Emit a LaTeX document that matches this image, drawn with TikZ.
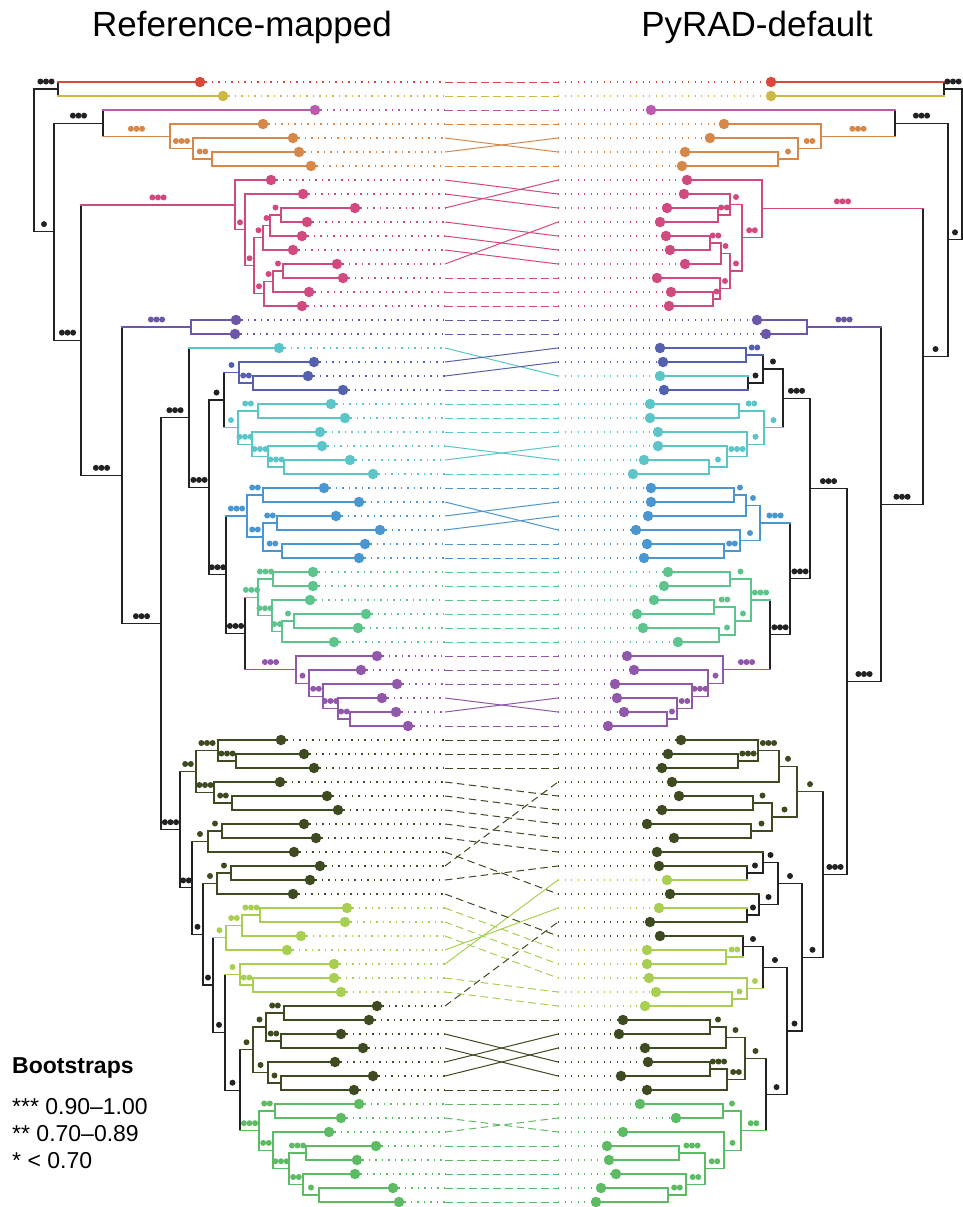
\documentclass[tikz,border=0pt]{standalone}
\usepackage{fontspec}
\setmainfont{Liberation Sans}
\usetikzlibrary{calc}

\definecolor{cRed}{HTML}{D9483B}
\definecolor{cYel}{HTML}{CDB843}
\definecolor{cMag}{HTML}{B85AAD}
\definecolor{cOra}{HTML}{D6884A}
\definecolor{cPink}{HTML}{D04A80}
\definecolor{cPur}{HTML}{6B56A8}
\definecolor{cDblue}{HTML}{5560AE}
\definecolor{cCyan}{HTML}{5CC5C8}
\definecolor{cBlue}{HTML}{4A96D0}
\definecolor{cGreen}{HTML}{5DC48E}
\definecolor{cViol}{HTML}{9157A8}
\definecolor{cOlive}{HTML}{3E4A1F}
\definecolor{cLime}{HTML}{A8CF52}
\definecolor{cLeaf}{HTML}{5DBB63}
\definecolor{cBlk}{HTML}{222222}

% tip: name, x, row, colour
\newcommand\tip[4]{%
  \node[tipdot, fill=#4] (#1) at (#2,{82+14*#3}) {};
  \expandafter\gdef\csname col@#1\endcsname{#4}%
  \expandafter\gdef\csname bs@#1\endcsname{0}}

% branch from a child to its parent, with the bootstrap dots of the child
\newcommand\twig[2]{%
  \edef\twigcol{\csname col@#1\endcsname}%
  \draw[branch, draw=\twigcol] (#1) -- (#1 -| #2);
  \ifnum\csname bs@#1\endcsname>0
    \path ($(#1)!0.5!(#1 -| #2)$) ++(0pt,7.5pt) coordinate (bsmid);
    \edef\twign{\csname bs@#1\endcsname}%
    \foreach \k in {1,...,\twign}
      \fill[fill=\twigcol] ([xshift={5.6*(\k-(\twign+1)/2)}]bsmid) circle (3pt);
  \fi}

% clade: name, x, first child, second child, colour, bootstrap dots
\newcommand\clade[6]{%
  \coordinate (mid) at ($(#3)!0.5!(#4)$);
  \path let \p1=(mid) in coordinate (#1) at (#2pt,\y1);
  \draw[branch, draw=#5] (#3 -| #1) -- (#4 -| #1);
  \twig{#3}{#1}%
  \twig{#4}{#1}%
  \expandafter\gdef\csname col@#1\endcsname{#5}%
  \expandafter\gdef\csname bs@#1\endcsname{#6}}

% link between the two trees: left row, right row, middle style
\newcommand\tangle[3]{%
  \edef\tngcol{\csname col@L#1\endcsname}%
  \edef\tngcor{\csname col@R#2\endcsname}%
  \draw[linkdot, draw=\tngcol] (L#1) -- (L#1 -| lgap);
  \draw[#3, draw=\tngcol] (L#1 -| lgap) -- (R#2 -| rgap);
  \draw[linkdot, draw=\tngcor] (R#2 -| rgap) -- (R#2);}

\begin{document}
\begin{tikzpicture}[x=1pt, y=-1pt,
  tipdot/.style={circle, inner sep=0pt, minimum size=10.5pt},
  branch/.style={line width=1.2pt, line cap=rect},
  linkdot/.style={line width=1.2pt, dash pattern=on 1.2pt off 5.3pt},
  midline/.style={line width=1pt, dash pattern=on 7.5pt off 4.5pt},
  midcross/.style={line width=1pt}]
  \useasboundingbox (0,0) rectangle (963,1207);
  \coordinate (lgap) at (445,0);
  \coordinate (rgap) at (558,0);

  % titles
  \node[anchor=base, inner sep=0pt, font=\fontsize{35}{42}\selectfont] (reftitle) at (242,37) {Reference-mapped};
  \node[anchor=base, inner sep=0pt, font=\fontsize{35}{42}\selectfont] (pyrtitle) at (757,37) {PyRAD-default};

  % left tips
  \tip{L0}{200}{0}{cRed}
  \tip{L1}{223}{1}{cYel}
  \tip{L2}{315}{2}{cMag}
  \foreach \r/\px in {3/263,4/293,5/299,6/311} {\tip{L\r}{\px}{\r}{cOra}}
  \foreach \r/\px in {7/271,8/303,9/355,10/307,11/302,12/293,13/337,14/343,15/309,16/302} {\tip{L\r}{\px}{\r}{cPink}}
  \foreach \r/\px in {17/236,18/235} {\tip{L\r}{\px}{\r}{cPur}}
  \foreach \r/\px in {19/279,23/331,24/345,25/320,26/322,27/350,28/373} {\tip{L\r}{\px}{\r}{cCyan}}
  \foreach \r/\px in {20/314,21/308,22/343} {\tip{L\r}{\px}{\r}{cDblue}}
  \foreach \r/\px in {29/324,30/359,31/336,32/380,33/365,34/359} {\tip{L\r}{\px}{\r}{cBlue}}
  \foreach \r/\px in {35/313,36/313,37/310,38/366,39/358,40/334} {\tip{L\r}{\px}{\r}{cGreen}}
  \foreach \r/\px in {41/377,42/361,43/397,44/382,45/396,46/408} {\tip{L\r}{\px}{\r}{cViol}}
  \foreach \r/\px in {47/281,48/304,49/314,50/280,51/327,52/338,53/304,54/316,55/294,56/320,57/310,58/293,
    66/377,67/369,68/341,69/363,70/335,71/373,72/354} {\tip{L\r}{\px}{\r}{cOlive}}
  \foreach \r/\px in {59/347,60/345,61/301,62/287,63/334,64/334,65/341} {\tip{L\r}{\px}{\r}{cLime}}
  \foreach \r/\px in {73/359,74/341,75/329,76/376,77/357,78/355,79/393,80/399} {\tip{L\r}{\px}{\r}{cLeaf}}

  % right tips
  \tip{R0}{771}{0}{cRed}
  \tip{R1}{771}{1}{cYel}
  \tip{R2}{651}{2}{cMag}
  \foreach \r/\px in {3/724,4/710,5/685,6/682} {\tip{R\r}{\px}{\r}{cOra}}
  \foreach \r/\px in {7/687,8/684,9/667,10/660,11/666,12/670,13/685,14/657,15/671,16/669} {\tip{R\r}{\px}{\r}{cPink}}
  \foreach \r/\px in {17/757,18/766} {\tip{R\r}{\px}{\r}{cPur}}
  \foreach \r/\px in {19/660,20/663,22/664} {\tip{R\r}{\px}{\r}{cDblue}}
  \foreach \r/\px in {21/660,23/650,24/650,25/658,26/658,27/644,28/633} {\tip{R\r}{\px}{\r}{cCyan}}
  \foreach \r/\px in {29/651,30/651,31/648,32/636,33/647,34/644} {\tip{R\r}{\px}{\r}{cBlue}}
  \foreach \r/\px in {35/668,36/664,37/654,38/637,39/643,40/678} {\tip{R\r}{\px}{\r}{cGreen}}
  \foreach \r/\px in {41/627,42/634,43/615,44/617,45/624,46/608} {\tip{R\r}{\px}{\r}{cViol}}
  \foreach \r/\px in {47/681,48/668,49/662,50/672,51/679,52/662,53/647,54/674,55/657,56/659,58/670,60/650,61/660,
    67/623,68/619,69/645,70/648,71/621,72/647} {\tip{R\r}{\px}{\r}{cOlive}}
  \foreach \r/\px in {57/667,59/659,62/647,63/647,64/649,65/656,66/645} {\tip{R\r}{\px}{\r}{cLime}}
  \foreach \r/\px in {73/640,74/676,75/623,76/607,77/609,78/616,79/601,80/596} {\tip{R\r}{\px}{\r}{cLeaf}}

  % links between the trees
  \foreach \r in {0,1,2,3,6,14,15,16,17,18,22,23,24,25,28,29,33,34,35,36,37,38,39,40,41,42,43,46,
    47,48,49,67,72,73,76,77,78,79,80} {\tangle{\r}{\r}{midline}}
  \foreach \r/\s in {4/5,5/4,7/8,8/9,9/7,10/11,11/12,12/13,13/10,19/21,20/19,21/20,26/27,27/26,
    30/32,31/30,32/31,44/45,45/44,62/59,63/57,68/70,69/71,70/68,71/69} {\tangle{\r}{\s}{midcross}}
  \foreach \r/\s in {50/51,51/52,52/53,53/54,54/55,55/58,56/50,57/56,58/61,59/62,60/63,61/64,
    64/65,65/66,66/60,74/75,75/74} {\tangle{\r}{\s}{midline}}

  % left tree
  \clade{lA}{58}{L0}{L1}{cBlk}{3}
  \clade{lO3}{212}{L5}{L6}{cOra}{2}
  \clade{lO2}{193}{L4}{lO3}{cOra}{3}
  \clade{lO}{170}{L3}{lO2}{cOra}{3}
  \clade{lC}{103}{L2}{lO}{cBlk}{3}
  \clade{lP6}{281}{L9}{L10}{cPink}{1}
  \clade{lP5}{270}{lP6}{L11}{cPink}{1}
  \clade{lP4}{263}{lP5}{L12}{cPink}{1}
  \clade{lP9}{283}{L13}{L14}{cPink}{1}
  \clade{lP8}{273}{lP9}{L15}{cPink}{1}
  \clade{lP7}{264}{lP8}{L16}{cPink}{1}
  \clade{lP3}{254}{lP4}{lP7}{cPink}{1}
  \clade{lP2}{245}{L8}{lP3}{cPink}{1}
  \clade{lP}{235}{L7}{lP2}{cPink}{3}
  \clade{lPu}{191}{L17}{L18}{cPur}{3}
  \clade{lDB2}{253}{L21}{L22}{cDblue}{2}
  \clade{lDB}{239}{L20}{lDB2}{cDblue}{1}
  \clade{lC3}{258}{L23}{L24}{cCyan}{2}
  \clade{lC6}{284}{L27}{L28}{cCyan}{3}
  \clade{lC5}{268}{L26}{lC6}{cCyan}{3}
  \clade{lC4}{252}{L25}{lC5}{cCyan}{3}
  \clade{lC2}{238}{lC3}{lC4}{cCyan}{1}
  \clade{lG3}{224}{lDB}{lC2}{cBlk}{1}
  \clade{lBl2}{263}{L29}{L30}{cBlue}{2}
  \clade{lBl4}{277}{L31}{L32}{cBlue}{2}
  \clade{lBl5}{282}{L33}{L34}{cBlue}{2}
  \clade{lBl3}{263}{lBl4}{lBl5}{cBlue}{2}
  \clade{lBl}{247}{lBl2}{lBl3}{cBlue}{3}
  \clade{lGr2}{273}{L35}{L36}{cGreen}{3}
  \clade{lGr5}{294}{L38}{L39}{cGreen}{1}
  \clade{lGr4}{282}{lGr5}{L40}{cGreen}{2}
  \clade{lGr3}{272}{L37}{lGr4}{cGreen}{3}
  \clade{lGr}{258}{lGr2}{lGr3}{cGreen}{3}
  \clade{lPuB5}{350}{L45}{L46}{cViol}{2}
  \clade{lPuB4}{338}{L44}{lPuB5}{cViol}{3}
  \clade{lPuB3}{323}{L43}{lPuB4}{cViol}{2}
  \clade{lPuB2}{309}{L42}{lPuB3}{cViol}{1}
  \clade{lPuB}{296}{L41}{lPuB2}{cViol}{3}
  \clade{lGP}{245}{lGr}{lPuB}{cBlk}{3}
  \clade{lG4}{226}{lBl}{lGP}{cBlk}{3}
  \clade{lG2}{209}{lG3}{lG4}{cBlk}{3}
  \clade{lG}{189}{L19}{lG2}{cBlk}{3}
  \clade{lOl2b}{236}{L48}{L49}{cOlive}{3}
  \clade{lOl2}{218}{L47}{lOl2b}{cOlive}{3}
  \clade{lOl3b}{232}{L51}{L52}{cOlive}{2}
  \clade{lOl3}{214}{L50}{lOl3b}{cOlive}{3}
  \clade{lOl1}{196}{lOl2}{lOl3}{cOlive}{2}
  \clade{lOl4b}{222}{L53}{L54}{cOlive}{1}
  \clade{lOl4}{208}{lOl4b}{L55}{cOlive}{1}
  \clade{lOl5b}{231}{L56}{L57}{cOlive}{1}
  \clade{lOl5}{217}{lOl5b}{L58}{cOlive}{1}
  \clade{lLGa}{260}{L59}{L60}{cLime}{3}
  \clade{lLGb}{242}{lLGa}{L61}{cLime}{2}
  \clade{lLGc}{226}{lLGb}{L62}{cLime}{1}
  \clade{lLGe}{253}{L64}{L65}{cLime}{2}
  \clade{lLGd}{240}{L63}{lLGe}{cLime}{1}
  \clade{lOl7a}{284}{L66}{L67}{cOlive}{2}
  \clade{lOl7b}{281}{L68}{L69}{cOlive}{2}
  \clade{lOl7}{266}{lOl7a}{lOl7b}{cOlive}{1}
  \clade{lOl8b}{281}{L71}{L72}{cOlive}{1}
  \clade{lOl8}{268}{L70}{lOl8b}{cOlive}{1}
  \clade{lOl6}{253}{lOl7}{lOl8}{cOlive}{1}
  \clade{lGrB1}{275}{L73}{L74}{cLeaf}{2}
  \clade{lGrB4}{306}{L76}{L77}{cLeaf}{3}
  \clade{lGrB6}{319}{L79}{L80}{cLeaf}{1}
  \clade{lGrB5}{303}{L78}{lGrB6}{cLeaf}{2}
  \clade{lGrB3}{289}{lGrB4}{lGrB5}{cLeaf}{3}
  \clade{lGrB2}{273}{L75}{lGrB3}{cLeaf}{2}
  \clade{lGrB}{259}{lGrB1}{lGrB2}{cLeaf}{3}
  \clade{lM}{240}{lOl6}{lGrB}{cBlk}{1}
  \clade{lL}{225}{lLGd}{lM}{cBlk}{1}
  \clade{lK}{213}{lLGc}{lL}{cBlk}{1}
  \clade{lJ}{203}{lOl5}{lK}{cBlk}{1}
  \clade{lI}{192}{lOl4}{lJ}{cBlk}{2}
  \clade{lH}{180}{lOl1}{lI}{cBlk}{3}
  \clade{lF}{161}{lG}{lH}{cBlk}{3}
  \clade{lE}{122}{lPu}{lF}{cBlk}{3}
  \clade{lD}{81}{lP}{lE}{cBlk}{3}
  \clade{lB}{54}{lC}{lD}{cBlk}{1}
  \clade{lroot}{34}{lA}{lB}{cBlk}{0}

  % right tree
  \clade{rA}{944}{R0}{R1}{cBlk}{3}
  \clade{rO3}{778}{R5}{R6}{cOra}{1}
  \clade{rO2}{798}{R4}{rO3}{cOra}{2}
  \clade{rO}{821}{R3}{rO2}{cOra}{3}
  \clade{rC}{895}{R2}{rO}{cBlk}{3}
  \clade{rP3b}{718}{R9}{R10}{cPink}{2}
  \clade{rP3}{730}{R8}{rP3b}{cPink}{1}
  \clade{rP5}{710}{R11}{R12}{cPink}{2}
  \clade{rP6}{721}{rP5}{R13}{cPink}{1}
  \clade{rP9}{713}{R15}{R16}{cPink}{1}
  \clade{rP8}{720}{R14}{rP9}{cPink}{1}
  \clade{rP7}{730}{rP6}{rP8}{cPink}{1}
  \clade{rP2}{742}{rP3}{rP7}{cPink}{2}
  \clade{rP}{762}{R7}{rP2}{cPink}{3}
  \clade{rPu}{807}{R17}{R18}{cPur}{3}
  \clade{rDB1}{746}{R19}{R20}{cDblue}{2}
  \clade{rDB2}{748}{R21}{R22}{cBlk}{1}
  \clade{rDB}{763}{rDB1}{rDB2}{cBlk}{1}
  \clade{rC3}{739}{R23}{R24}{cCyan}{2}
  \clade{rC6}{709}{R27}{R28}{cCyan}{1}
  \clade{rC5}{727}{R26}{rC6}{cCyan}{3}
  \clade{rC4}{747}{R25}{rC5}{cCyan}{1}
  \clade{rC2}{764}{rC3}{rC4}{cCyan}{1}
  \clade{rG1}{783}{rDB}{rC2}{cBlk}{3}
  \clade{rBl1a}{734}{R29}{R30}{cBlue}{1}
  \clade{rBl1}{746}{rBl1a}{R31}{cBlue}{1}
  \clade{rBl2a}{724}{R33}{R34}{cBlue}{2}
  \clade{rBl2}{740}{R32}{rBl2a}{cBlue}{1}
  \clade{rBl}{760}{rBl1}{rBl2}{cBlue}{3}
  \clade{rGr1}{730}{R35}{R36}{cGreen}{1}
  \clade{rGr3}{714}{R37}{R38}{cGreen}{2}
  \clade{rGr4}{719}{R39}{R40}{cGreen}{1}
  \clade{rGr2}{735}{rGr3}{rGr4}{cGreen}{1}
  \clade{rGr}{751}{rGr1}{rGr2}{cGreen}{3}
  \clade{rPuB5}{667}{R45}{R46}{cViol}{1}
  \clade{rPuB4}{677}{R44}{rPuB5}{cViol}{2}
  \clade{rPuB3}{692}{R43}{rPuB4}{cViol}{3}
  \clade{rPuB2}{708}{R42}{rPuB3}{cViol}{1}
  \clade{rPuB}{723}{R41}{rPuB2}{cViol}{3}
  \clade{rGP}{770}{rGr}{rPuB}{cBlk}{3}
  \clade{rG2}{790}{rBl}{rGP}{cBlk}{3}
  \clade{rG}{810}{rG1}{rG2}{cBlk}{3}
  \clade{rV1b}{738}{R48}{R49}{cOlive}{3}
  \clade{rV1a}{758}{R47}{rV1b}{cOlive}{3}
  \clade{rV1}{779}{rV1a}{R50}{cOlive}{1}
  \clade{rV2a}{753}{R51}{R52}{cOlive}{1}
  \clade{rV2b}{751}{R53}{R54}{cOlive}{1}
  \clade{rV2}{772}{rV2a}{rV2b}{cOlive}{1}
  \clade{rV}{797}{rV1}{rV2}{cOlive}{1}
  \clade{rRa}{747}{R56}{R57}{cBlk}{1}
  \clade{rRb}{763}{R55}{rRa}{cBlk}{1}
  \clade{rRc}{747}{R59}{R60}{cBlk}{1}
  \clade{rRd}{759}{R58}{rRc}{cBlk}{1}
  \clade{rRe}{778}{rRb}{rRd}{cBlk}{1}
  \clade{rRf}{726}{R62}{R63}{cLime}{2}
  \clade{rRg}{743}{R61}{rRf}{cBlk}{1}
  \clade{rRj}{732}{R65}{R66}{cLime}{1}
  \clade{rRi}{747}{R64}{rRj}{cLime}{1}
  \clade{rRh}{763}{rRg}{rRi}{cBlk}{1}
  \clade{rOl1a}{710}{R67}{R68}{cOlive}{1}
  \clade{rOl1}{726}{rOl1a}{R69}{cOlive}{1}
  \clade{rOl2a}{710}{R70}{R71}{cOlive}{3}
  \clade{rOl2}{727}{rOl2a}{R72}{cOlive}{2}
  \clade{rOl}{745}{rOl1}{rOl2}{cOlive}{1}
  \clade{rGrB1}{723}{R73}{R74}{cLeaf}{1}
  \clade{rGrB4}{679}{R76}{R77}{cLeaf}{3}
  \clade{rGrB6}{668}{R79}{R80}{cLeaf}{2}
  \clade{rGrB5}{686}{R78}{rGrB6}{cLeaf}{2}
  \clade{rGrB3}{705}{rGrB4}{rGrB5}{cLeaf}{2}
  \clade{rGrB2}{724}{R75}{rGrB3}{cLeaf}{1}
  \clade{rGrB}{741}{rGrB1}{rGrB2}{cLeaf}{2}
  \clade{rJ}{766}{rOl}{rGrB}{cBlk}{1}
  \clade{rI}{787}{rRh}{rJ}{cBlk}{1}
  \clade{rH2}{802}{rRe}{rI}{cBlk}{1}
  \clade{rH}{823}{rV}{rH2}{cBlk}{3}
  \clade{rF}{847}{rG}{rH}{cBlk}{3}
  \clade{rE}{881}{rPu}{rF}{cBlk}{3}
  \clade{rD}{923}{rP}{rE}{cBlk}{1}
  \clade{rB}{948}{rC}{rD}{cBlk}{1}
  \clade{rroot}{962}{rA}{rB}{cBlk}{0}

  % legend
  \node[anchor=base west, inner sep=0pt, font=\bfseries\fontsize{23}{28}\selectfont] (bstitle) at (12,1073) {Bootstraps};
  \node[anchor=base west, inner sep=0pt, font=\fontsize{23}{28}\selectfont] (bsthree) at (12,1114) {*** 0.90–1.00};
  \node[anchor=base west, inner sep=0pt, font=\fontsize{23}{28}\selectfont] (bstwo) at (12,1141) {** 0.70–0.89};
  \node[anchor=base west, inner sep=0pt, font=\fontsize{23}{28}\selectfont] (bsone) at (12,1168) {* < 0.70};
\end{tikzpicture}
\end{document}
